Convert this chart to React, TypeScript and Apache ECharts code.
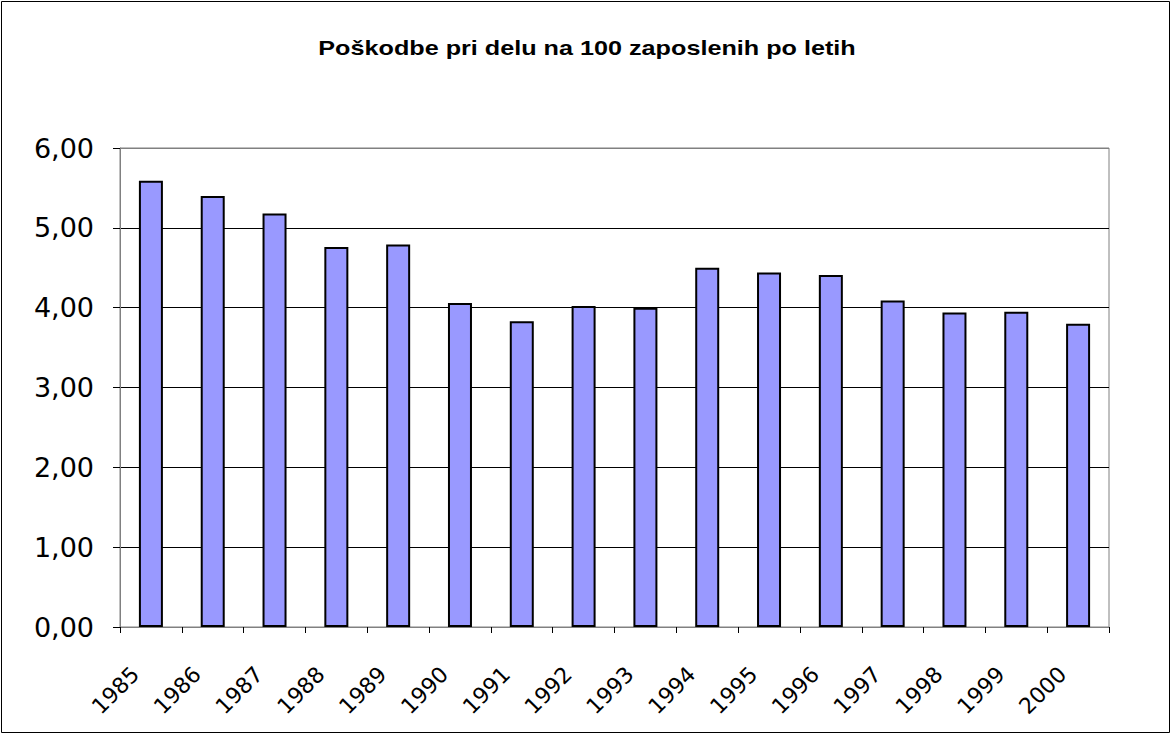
import React, { useEffect, useRef } from "react";
import * as echarts from "echarts";

const titleText = "Poškodbe pri delu na 100 zaposlenih po letih";
const years = ["1985","1986","1987","1988","1989","1990","1991","1992","1993","1994","1995","1996","1997","1998","1999","2000"];
const injuries = [5.59, 5.40, 5.18, 4.76, 4.79, 4.06, 3.83, 4.02, 4.00, 4.50, 4.44, 4.41, 4.09, 3.94, 3.95, 3.80];
const yMin = 0;
const yMax = 6;
const yStep = 1;

export default function App() {
  const ref = useRef<HTMLDivElement>(null);
  useEffect(() => {
    document.body.style.margin = "0";
    const chart = echarts.init(ref.current!, null, { renderer: "svg" });
    chart.setOption({
      animation: false,
      backgroundColor: "#ffffff",
      graphic: [
        {
          type: "rect",
          shape: { x: 1.5, y: 1.5, width: 1168, height: 731 },
          style: { fill: "none", stroke: "#000", lineWidth: 1 },
          silent: true,
        },
        {
          type: "text",
          x: 587,
          y: 48,
          scaleX: 1.26,
          style: {
            text: titleText,
            fontFamily: "Liberation Sans",
            fontWeight: "bold",
            fontSize: 20,
            fill: "#000",
            align: "center",
            verticalAlign: "middle",
          },
          silent: true,
        },
      ],
      grid: {
        left: 120,
        right: 63,
        top: 148,
        bottom: 109,
        show: true,
        borderColor: "#808080",
        borderWidth: 1,
      },
      xAxis: {
        type: "category",
        data: years,
        boundaryGap: true,
        axisLine: { lineStyle: { color: "#808080", width: 1 } },
        axisTick: { show: true, length: 6, lineStyle: { color: "#000" } },
        axisLabel: {
          rotate: 45,
          margin: 28,
          padding: [0, 22, 0, 0],
          fontFamily: "DejaVu Sans",
          fontSize: 22,
          color: "#000",
          interval: 0,
        },
      },
      yAxis: {
        type: "value",
        min: yMin,
        max: yMax,
        interval: yStep,
        axisLine: { show: true, lineStyle: { color: "#808080", width: 1 } },
        axisTick: { show: true, length: 7, lineStyle: { color: "#000" } },
        axisLabel: {
          margin: 26,
          fontFamily: "DejaVu Sans",
          fontSize: 27,
          color: "#000",
          formatter: (v: number) => v.toFixed(2).replace(".", ","),
        },
        splitLine: {
          show: true,
          lineStyle: {
            color: ["#808080", "#000", "#000", "#000", "#000", "#000", "#808080"],
            width: 1,
          },
        },
      },
      series: [
        {
          type: "bar",
          data: injuries,
          barWidth: 24,
          itemStyle: { color: "#9999FF", borderColor: "#000", borderWidth: 2 },
        },
      ],
    });
    return () => chart.dispose();
  }, []);
  return <div ref={ref} style={{ width: 1172, height: 736 }} />;
}
